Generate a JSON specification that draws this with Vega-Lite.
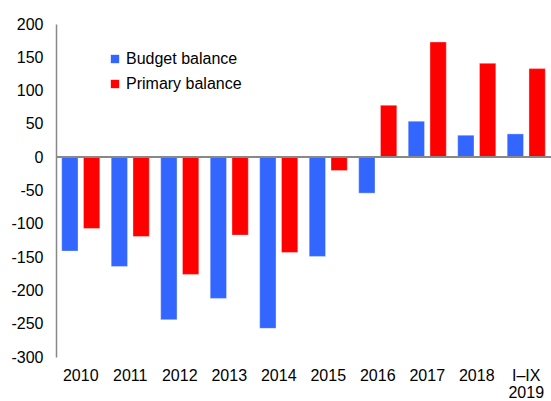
{
  "$schema": "https://vega.github.io/schema/vega-lite/v6.json",
  "width": 495,
  "height": 333,
  "autosize": "none",
  "padding": {"left": 56, "top": 24, "right": 0, "bottom": 44},
  "background": "white",
  "config": {
    "view": {"stroke": null},
    "font": "Liberation Sans",
    "axisY": {"labelOverlap": false}
  },
  "data": {
    "values": [
      {"period": "2010", "series": "Budget balance", "value": -141},
      {"period": "2010", "series": "Primary balance", "value": -107},
      {"period": "2011", "series": "Budget balance", "value": -164},
      {"period": "2011", "series": "Primary balance", "value": -119},
      {"period": "2012", "series": "Budget balance", "value": -244},
      {"period": "2012", "series": "Primary balance", "value": -176},
      {"period": "2013", "series": "Budget balance", "value": -212},
      {"period": "2013", "series": "Primary balance", "value": -117},
      {"period": "2014", "series": "Budget balance", "value": -257},
      {"period": "2014", "series": "Primary balance", "value": -143},
      {"period": "2015", "series": "Budget balance", "value": -149},
      {"period": "2015", "series": "Primary balance", "value": -20},
      {"period": "2016", "series": "Budget balance", "value": -54},
      {"period": "2016", "series": "Primary balance", "value": 78},
      {"period": "2017", "series": "Budget balance", "value": 54},
      {"period": "2017", "series": "Primary balance", "value": 173},
      {"period": "2018", "series": "Budget balance", "value": 33},
      {"period": "2018", "series": "Primary balance", "value": 141},
      {"period": "I–IX 2019", "series": "Budget balance", "value": 35},
      {"period": "I–IX 2019", "series": "Primary balance", "value": 133}
    ]
  },
  "resolve": {"axis": {"y": "independent"}},
  "layer": [
    {
      "mark": {"type": "bar", "stroke": "white", "strokeOpacity": 0.5, "strokeWidth": 0.7},
      "encoding": {
        "x": {
          "field": "period",
          "type": "nominal",
          "sort": null,
          "scale": {"paddingInner": 0.23, "paddingOuter": 0.115},
          "axis": {
            "title": null,
            "domain": false,
            "ticks": false,
            "labelAngle": 0,
            "labelFontSize": 16,
            "labelColor": "black",
            "labelPadding": 10,
            "labelLineHeight": 17,
            "labelExpr": "datum.label == 'I–IX 2019' ? ['I–IX', '2019'] : datum.label"
          }
        },
        "xOffset": {
          "field": "series",
          "type": "nominal",
          "scale": {"paddingInner": 0.25, "paddingOuter": 0}
        },
        "y": {
          "field": "value",
          "type": "quantitative",
          "scale": {"domain": [-300, 200], "nice": false, "zero": false},
          "axis": {
            "title": null,
            "values": [-300, -250, -200, -150, -100, -50, 0, 50, 100, 150, 200],
            "labelOverlap": false,
            "labelExpr": "replace(datum.label, '−', '-')",
            "grid": false,
            "ticks": false,
            "domainColor": "#888888",
            "domainWidth": 1.5,
            "labelFontSize": 16,
            "labelColor": "black",
            "labelPadding": 13
          }
        },
        "color": {
          "field": "series",
          "type": "nominal",
          "scale": {"domain": ["Budget balance", "Primary balance"], "range": ["#3366FF", "#FF0000"]},
          "legend": {
            "title": null,
            "orient": "none",
            "legendX": 51,
            "legendY": 27,
            "symbolType": "square",
            "symbolSize": 70,
            "symbolStrokeWidth": 0,
            "labelFontSize": 16,
            "labelColor": "black",
            "rowPadding": 9,
            "labelOffset": 3
          }
        }
      }
    },
    {
      "mark": {"type": "rule", "color": "#888888", "strokeWidth": 1.5},
      "encoding": {"y": {"datum": 0, "axis": null}}
    }
  ]
}
